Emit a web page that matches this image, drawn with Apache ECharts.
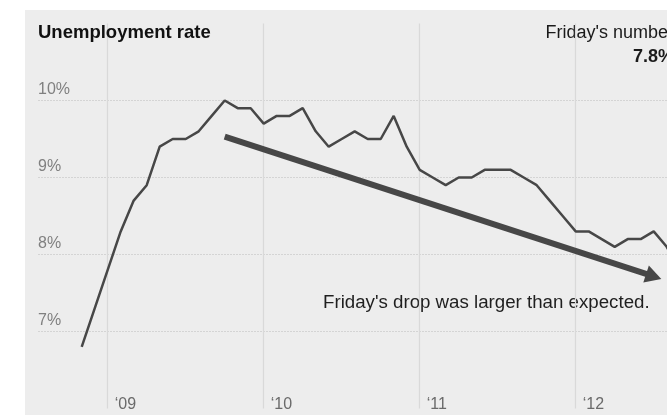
<!DOCTYPE html>
<html>
<head>
<meta charset="utf-8">
<script src="https://cdn.jsdelivr.net/npm/echarts@6/dist/echarts.min.js"></script>
<style>
  html, body { margin: 0; padding: 0; background: #ffffff; overflow: hidden; }
  #wrap { position: relative; width: 667px; height: 415px; overflow: hidden; }
  #panel { position: absolute; left: 24.5px; top: 9.5px; right: 0; bottom: 0; background: #ededed; }
  #chart { position: absolute; left: 0; top: 0; width: 700px; height: 415px; }
</style>
</head>
<body>
<div id="wrap"><div id="panel"></div><div id="chart"></div></div>
<script>
// Months (Nov 2008 – Sep 2012)
const months = [
  '2008-11','2008-12',
  '2009-01','2009-02','2009-03','2009-04','2009-05','2009-06','2009-07','2009-08','2009-09','2009-10','2009-11','2009-12',
  '2010-01','2010-02','2010-03','2010-04','2010-05','2010-06','2010-07','2010-08','2010-09','2010-10','2010-11','2010-12',
  '2011-01','2011-02','2011-03','2011-04','2011-05','2011-06','2011-07','2011-08','2011-09','2011-10','2011-11','2011-12',
  '2012-01','2012-02','2012-03','2012-04','2012-05','2012-06','2012-07','2012-08','2012-09'
];
// Unemployment rate, %
const rate = [
  6.8, 7.3,
  7.8, 8.3, 8.7, 8.9, 9.4, 9.5, 9.5, 9.6, 9.8, 10.0, 9.9, 9.9,
  9.7, 9.8, 9.8, 9.9, 9.6, 9.4, 9.5, 9.6, 9.5, 9.5, 9.8, 9.4,
  9.1, 9.0, 8.9, 9.0, 9.0, 9.1, 9.1, 9.1, 9.0, 8.9, 8.7, 8.5,
  8.3, 8.3, 8.2, 8.1, 8.2, 8.2, 8.3, 8.1, 7.8
];
// Tick labels
const xTickLabels = { '2009-01': '\u201809', '2010-01': '\u201810', '2011-01': '\u201811', '2012-01': '\u201812' };
const yTickValues = [7, 8, 9, 10];
// Annotation arrow (month index, %)
const arrowFrom = [10.9, 9.53];
const arrowTo = [44.45, 7.715];

const FONT = '"Liberation Sans", Arial, Helvetica, sans-serif';
const chart = echarts.init(document.getElementById('chart'), null, { renderer: 'canvas', width: 700, height: 415 });

const isYearStart = (idx) => months[idx] && months[idx].slice(5) === '01';

chart.setOption({
  animation: false,
  backgroundColor: 'transparent',
  textStyle: { fontFamily: FONT },
  grid: [
    { left: 38, right: 0, top: 23.5, bottom: 6.5 },
    { left: 81.7, width: 598, top: 23.5, bottom: 6.5 }
  ],
  xAxis: [
    { gridIndex: 0, type: 'value', show: false, min: 0, max: 1 },
    {
      gridIndex: 1, type: 'category', data: months, boundaryGap: false,
      axisLine: { show: false }, axisTick: { show: false },
      splitLine: { show: true, interval: (i) => isYearStart(i), lineStyle: { color: '#d9d9d9', width: 1.2 } },
      axisLabel: {
        interval: (i) => isYearStart(i),
        formatter: (v) => xTickLabels[v] || '',
        align: 'left', margin: -11.5, padding: [0, 0, 0, 7],
        color: '#6a6a6a', fontSize: 16, fontFamily: FONT
      }
    }
  ],
  yAxis: [
    {
      gridIndex: 0, type: 'value', min: 6, max: 11, interval: 1,
      axisLine: { show: false }, axisTick: { show: false },
      splitLine: { show: true, showMinLine: false, showMaxLine: false, lineStyle: { color: '#d4d4d4', type: [2, 1], width: 1.2 } },
      axisLabel: {
        inside: true, margin: 0, verticalAlign: 'bottom', padding: [0, 0, 3, 0],
        formatter: (v) => yTickValues.indexOf(v) >= 0 ? v + '%' : '',
        color: '#808080', fontSize: 16, fontFamily: FONT
      }
    },
    { gridIndex: 1, type: 'value', min: 6, max: 11, show: false }
  ],
  title: {
    text: 'Unemployment rate', left: 38, top: 23.5, padding: 0,
    textStyle: { fontSize: 18.5, fontWeight: 'bold', color: '#111', fontFamily: FONT }
  },
  graphic: [
    { type: 'text', x: 674, y: 33, silent: true,
      style: { text: "Friday's number", align: 'right', verticalAlign: 'middle', font: '18px ' + FONT, fill: '#1a1a1a' } },
    { type: 'text', x: 674, y: 57, silent: true,
      style: { text: '7.8%', align: 'right', verticalAlign: 'middle', font: 'bold 18px ' + FONT, fill: '#1a1a1a' } },
    { type: 'text', x: 323, y: 303, silent: true,
      style: { text: "Friday's drop was larger than expected.", align: 'left', verticalAlign: 'middle', font: '18.7px ' + FONT, fill: '#1f1f1f' } }
  ],
  series: [
    {
      type: 'line', xAxisIndex: 1, yAxisIndex: 1, data: rate,
      symbol: 'none', smooth: false,
      lineStyle: { color: '#474747', width: 2.5 },
      markLine: {
        silent: true, symbol: ['none', 'triangle'], symbolSize: [18, 16],
        label: { show: false },
        lineStyle: { color: '#474747', width: 6, type: 'solid' },
        itemStyle: { color: '#474747' },
        data: [[{ coord: arrowFrom }, { coord: arrowTo }]]
      }
    }
  ]
});
</script>
</body>
</html>
